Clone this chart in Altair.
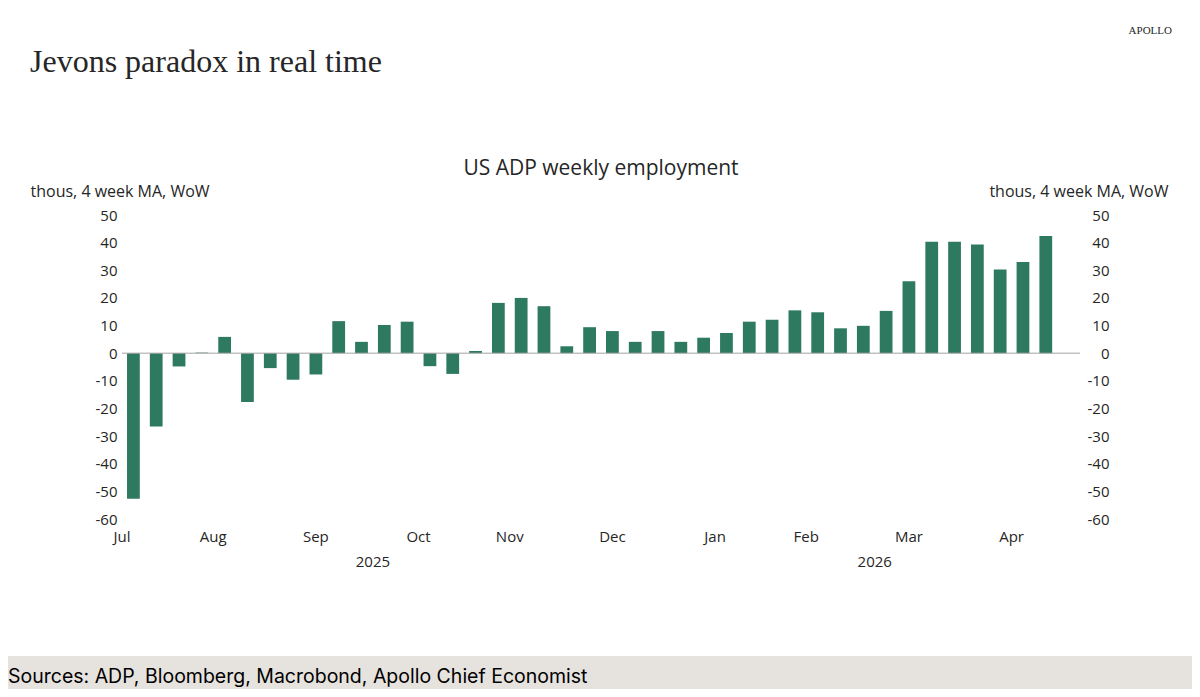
import altair as alt
import pandas as pd

# weekly observations, 4 week moving average of the weekly change (thous)
FIRST_WEEK = "2025-07-21"
adp_4wk_ma = [
    -52.7, -26.5, -4.8, 0.2, 5.9, -17.7, -5.4, -9.6, -7.7, 11.6,
    4.1, 10.2, 11.4, -4.7, -7.5, 0.8, 18.2, 20.0, 17.0, 2.5,
    9.4, 8.0, 4.1, 8.0, 4.1, 5.6, 7.3, 11.4, 12.1, 15.5,
    14.8, 9.0, 9.9, 15.3, 26.0, 40.3, 40.3, 39.3, 30.3, 33.0,
    42.4,
]

# weekly calendar behind the time axis (full months, one empty week at the end)
CALENDAR_START = "2025-07-07"
CALENDAR_END = "2026-05-04"
MONTHS_SHOWN = ["Jul", "Aug", "Sep", "Oct", "Nov", "Dec", "Jan", "Feb", "Mar", "Apr"]
Y_TICKS = list(range(-60, 51, 10))

TITLE = "Jevons paradox in real time"
CHART_TITLE = "US ADP weekly employment"
UNIT = "thous, 4 week MA, WoW"
SOURCE = "Sources: ADP, Bloomberg, Macrobond, Apollo Chief Economist"
BRAND = "APOLLO"

GREEN = "#2e7a61"
LINE_GRAY = "#a3a3a3"
INK = "#262626"
FOOTER_BG = "#e6e3df"
SANS = "Open Sans"
SERIF = "Liberation Serif"

W, H = 958, 304

first = pd.Timestamp(FIRST_WEEK)
bars = pd.DataFrame({
    "week": pd.date_range(FIRST_WEEK, periods=len(adp_4wk_ma), freq="W-MON"),
    "value": adp_4wk_ma,
})
bars["idx"] = range(len(bars))

cal = pd.DataFrame({"week": pd.date_range(CALENDAR_START, CALENDAR_END, freq="W-MON")})
cal["idx"] = (cal["week"] - first).dt.days // 7
cal["label"] = cal["week"].dt.strftime("%b")
cal["ym"] = cal["week"].dt.to_period("M").astype(str)
cal["year"] = cal["week"].dt.year

months = cal.groupby("ym").agg(label=("label", "first"), lo=("idx", "min"), hi=("idx", "max")).reset_index()
months["center"] = (months["lo"] + months["hi"]) / 2
edges = [float(v) for v in months["lo"] - 0.5 if v > -0.5]
month_labels = months[months["label"].isin(MONTHS_SHOWN)]

years = cal.groupby("year").agg(lo=("idx", "min"), hi=("idx", "max")).reset_index()
years["center"] = (years["lo"] + years["hi"]) / 2
years["label"] = years["year"].astype(str)

x_scale = alt.Scale(domain=[-0.5, float(cal["idx"].max()) + 0.5], nice=False, zero=False)
y_scale = alt.Scale(domain=[-60, 50], nice=False)

x_axis = alt.Axis(
    values=edges, labels=False, title=None, grid=False,
    tickSize=3, tickColor=LINE_GRAY, domainColor=LINE_GRAY,
)


def y_axis(orient, title_x, title_align, pad):
    return alt.Axis(
        orient=orient, values=Y_TICKS, grid=False, domain=False, ticks=False,
        labelExpr="toString(datum.value)",
        labelFont=SANS, labelFontSize=15, labelColor=INK, labelAlign="right", labelPadding=pad,
        title=UNIT, titleAngle=0, titleAlign=title_align, titleBaseline="alphabetic",
        titleX=title_x, titleY=-19, titleFont=SANS, titleFontSize=16,
        titleFontWeight="normal", titleColor=INK,
    )


bar_layer = (
    alt.Chart(bars)
    .transform_calculate(lo="datum.idx - 0.28", hi="datum.idx + 0.28")
    .mark_bar(color=GREEN)
    .encode(
        x=alt.X("lo:Q", scale=x_scale, axis=x_axis),
        x2="hi:Q",
        y=alt.Y("value:Q", scale=y_scale, axis=y_axis("left", -92, "left", 5)),
        y2=alt.datum(0),
        tooltip=[alt.Tooltip("week:T", format="%d %b %Y"), alt.Tooltip("value:Q", format=".1f")],
    )
)

zero_line = (
    alt.Chart(pd.DataFrame({"v": [0]}))
    .mark_rule(color=LINE_GRAY, strokeWidth=1)
    .encode(y=alt.Y("v:Q", scale=y_scale, axis=y_axis("right", 88, "right", 29)))
)

month_text = (
    alt.Chart(month_labels)
    .mark_text(font=SANS, fontSize=15, color=INK, baseline="middle")
    .encode(x=alt.X("center:Q", scale=x_scale, axis=None), y=alt.value(H + 18), text="label:N")
)

year_text = (
    alt.Chart(years)
    .mark_text(font=SANS, fontSize=15, color=INK, baseline="middle")
    .encode(x=alt.X("center:Q", scale=x_scale, axis=None), y=alt.value(H + 43), text="label:N")
)

# page furniture, placed relative to the plot's top-left corner
title_text = (
    alt.Chart(pd.DataFrame({"t": [TITLE]}))
    .mark_text(font=SERIF, fontSize=32, color=INK, align="left", baseline="alphabetic")
    .encode(x=alt.value(-92), y=alt.value(-143), text="t:N")
)
chart_title = (
    alt.Chart(pd.DataFrame({"t": [CHART_TITLE]}))
    .mark_text(font=SANS, fontSize=21, color=INK, align="center", baseline="alphabetic")
    .encode(x=alt.value(W / 2), y=alt.value(-40), text="t:N")
)
brand_text = (
    alt.Chart(pd.DataFrame({"t": [BRAND]}))
    .mark_text(font=SERIF, fontSize=11, color=INK, align="right", baseline="alphabetic")
    .encode(x=alt.value(1050), y=alt.value(-181), text="t:N")
)
footer_band = (
    alt.Chart(pd.DataFrame({"t": [SOURCE]}))
    .mark_rect(color=FOOTER_BG)
    .encode(x=alt.value(-114), x2=alt.value(W + 112), y=alt.value(441), y2=alt.value(474))
)
footer_text = (
    alt.Chart(pd.DataFrame({"t": [SOURCE]}))
    .mark_text(font="Inter", fontSize=19.5, color="#000000", align="left", baseline="alphabetic")
    .encode(x=alt.value(-114), y=alt.value(468), text="t:N")
)

chart = (
    alt.layer(
        footer_band, bar_layer, zero_line, month_text, year_text,
        title_text, chart_title, brand_text, footer_text,
    )
    .resolve_axis(y="independent")
    .properties(
        width=W,
        height=H,
        autosize=alt.AutoSizeParams(type="none"),
        padding={"left": 114, "top": 207, "right": 112, "bottom": 170},
    )
    .configure_view(stroke=None)
)

chart.save("out.html", embed_options={"renderer": "svg", "actions": False})
